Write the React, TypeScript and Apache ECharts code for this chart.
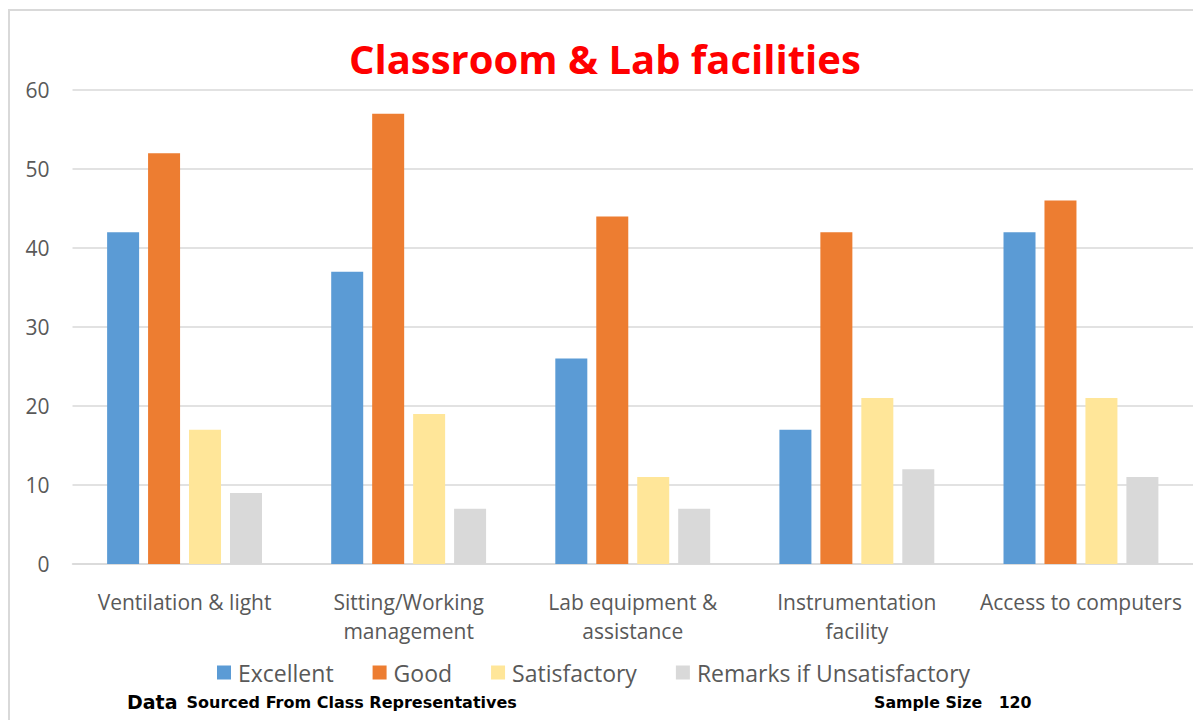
import React, { useEffect, useRef } from "react";
import * as echarts from "echarts";

const categories = [
  "Ventilation & light",
  "Sitting/Working\nmanagement",
  "Lab equipment &\nassistance",
  "Instrumentation\nfacility",
  "Access to computers",
];
const seriesNames = ["Excellent", "Good", "Satisfactory", "Remarks if Unsatisfactory"];
const excellent = [42, 37, 26, 17, 42];
const good = [52, 57, 44, 42, 46];
const satisfactory = [17, 19, 11, 21, 21];
const remarks = [9, 7, 7, 12, 11];
const colors = ["#5B9BD5", "#ED7D31", "#FFE699", "#D9D9D9"];
const titleText = "Classroom & Lab facilities";
const footerLeftBig = "Data";
const footerLeftSmall = "Sourced From Class Representatives";
const footerRight = "Sample Size   120";

export default function App() {
  const ref = useRef<HTMLDivElement>(null);
  useEffect(() => {
    if (!ref.current) return;
    const chart = echarts.init(ref.current, undefined, { renderer: "svg" });
    const values = [excellent, good, satisfactory, remarks];
    const font = "'Open Sans', 'Noto Sans', sans-serif";
    const foot = "'DejaVu Sans', sans-serif";
    chart.setOption({
      animation: false,
      backgroundColor: "#ffffff",
      title: {
        text: titleText,
        left: 349,
        top: 38,
        padding: 0,
        textStyle: { color: "#FF0000", fontSize: 40, fontWeight: "bold", fontFamily: font },
      },
      grid: { left: 72.5, width: 1125, top: 90, bottom: 156 },
      xAxis: {
        type: "category",
        data: categories,
        axisLine: { show: true, lineStyle: { color: "#D9D9D9", width: 1.5 } },
        axisTick: { show: false },
        axisLabel: {
          color: "#595959",
          fontSize: 21,
          fontFamily: font,
          margin: 23,
          lineHeight: 29,
          interval: 0,
        },
      },
      yAxis: {
        type: "value",
        min: 0,
        max: 60,
        interval: 10,
        axisLine: { show: false },
        axisTick: { show: false },
        axisLabel: { color: "#595959", fontSize: 21, fontFamily: font, margin: 23 },
        splitLine: { lineStyle: { color: "#D9D9D9", width: 1.5 } },
      },
      legend: {
        left: 217,
        top: 661,
        padding: 0,
        itemWidth: 14,
        itemHeight: 14,
        itemGap: 39,
        icon: "rect",
        textStyle: { color: "#595959", fontSize: 23, fontFamily: font, padding: [0, 0, 0, 2] },
        data: seriesNames,
      },
      series: seriesNames.map((name, i) => ({
        name,
        type: "bar",
        data: values[i],
        barWidth: 32,
        barGap: "28%",
        itemStyle: { color: colors[i] },
      })),
      graphic: [
        {
          type: "rect",
          shape: { x: 9, y: 10, width: 1300, height: 800 },
          style: { fill: "none", stroke: "#D9D9D9", lineWidth: 2 },
          silent: true,
        },
        {
          type: "text",
          x: 127,
          y: 702,
          style: {
            text: "{a|" + footerLeftBig + "}{b|" + footerLeftSmall + "}",
            verticalAlign: "middle",
            rich: {
              a: { fontSize: 19, fontWeight: "bold", fontFamily: foot, fill: "#000" },
              b: { fontSize: 16, fontWeight: "bold", fontFamily: foot, fill: "#000", padding: [0, 0, 0, 9] },
            },
          },
        },
        {
          type: "text",
          x: 874,
          y: 702,
          style: {
            text: footerRight,
            fontSize: 15.8,
            fontWeight: "bold",
            fontFamily: foot,
            fill: "#000",
            verticalAlign: "middle",
          },
        },
      ],
    });
    return () => chart.dispose();
  }, []);
  return (
    <div
      ref={ref}
      style={{ position: "absolute", left: 0, top: 0, width: 1193, height: 720, overflow: "hidden" }}
    />
  );
}
